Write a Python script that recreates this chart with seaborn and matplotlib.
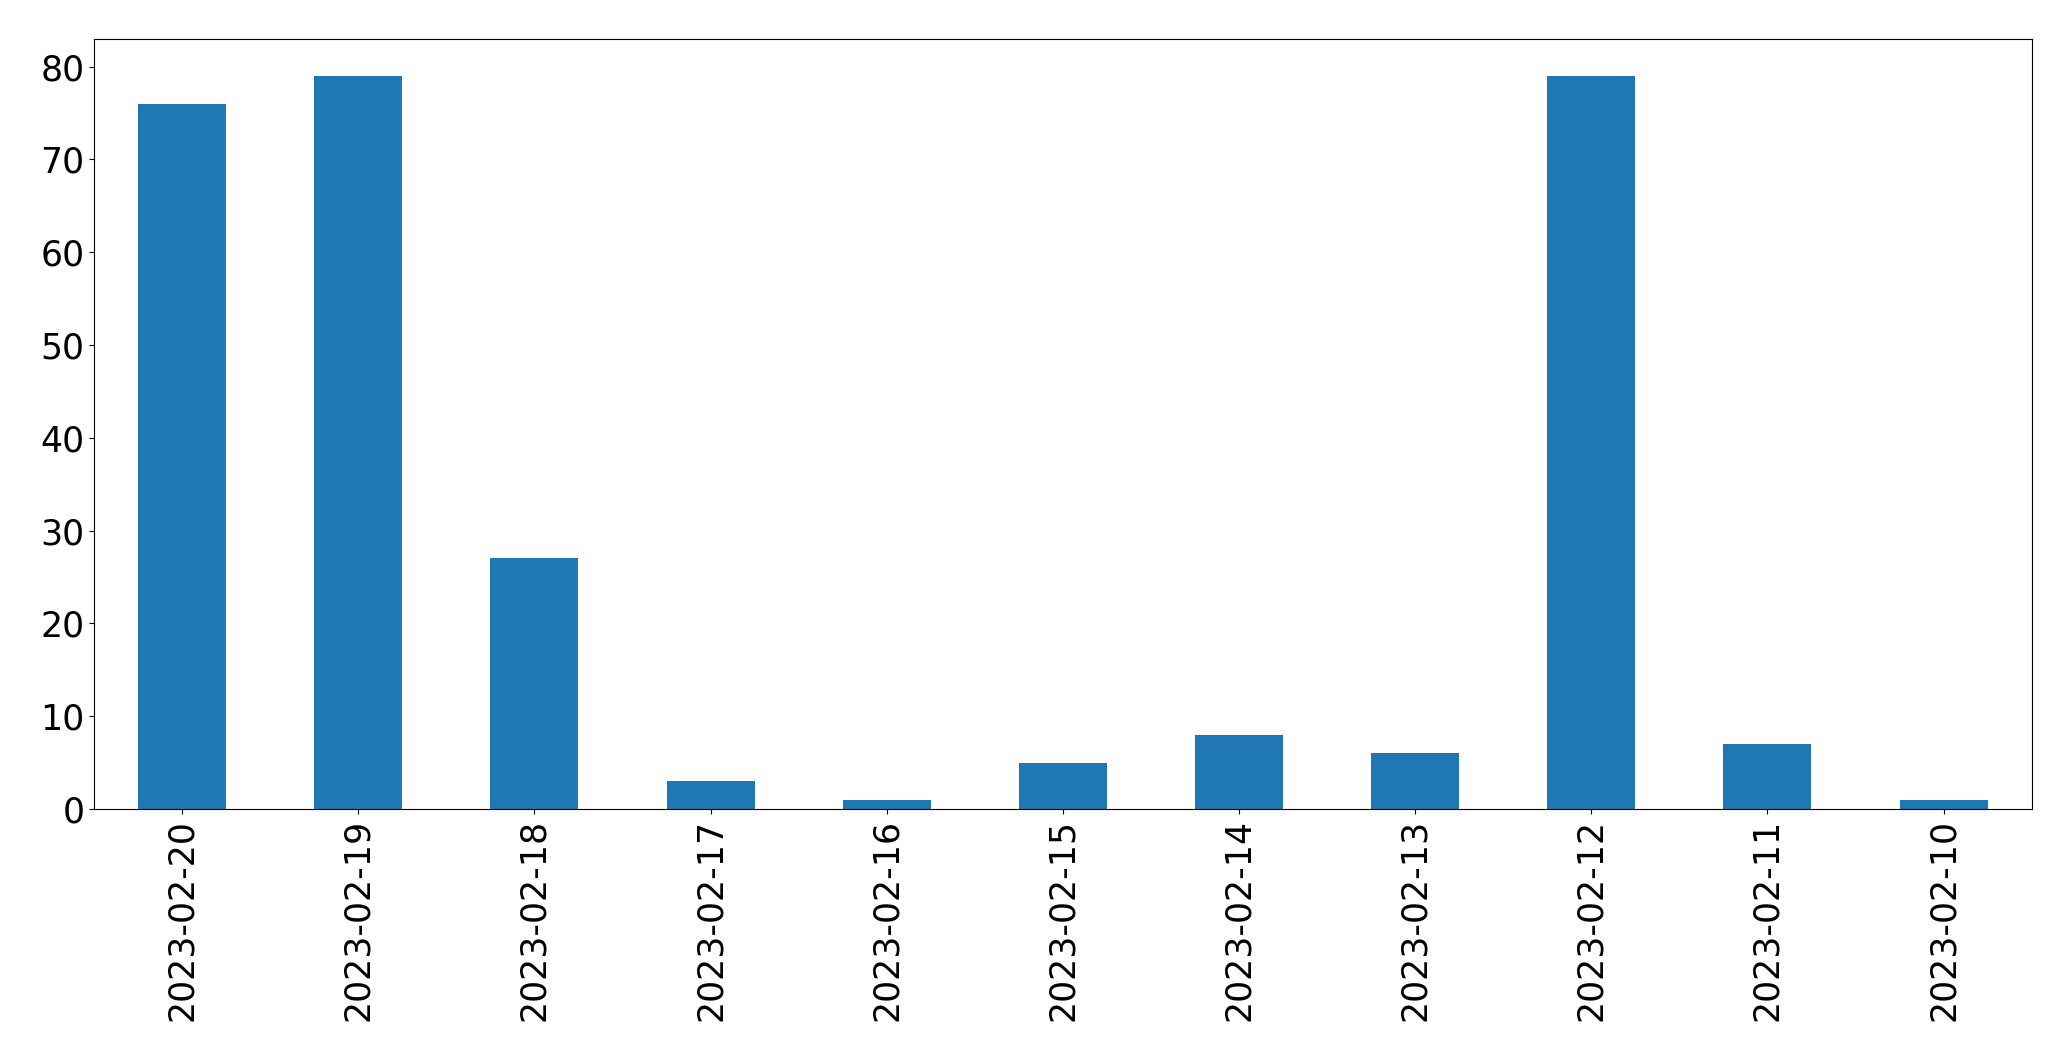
import numpy as np
import pandas as pd
import matplotlib
matplotlib.use("Agg")
import matplotlib.pyplot as plt
import seaborn as sns

dates = ["2023-02-20", "2023-02-19", "2023-02-18", "2023-02-17", "2023-02-16",
         "2023-02-15", "2023-02-14", "2023-02-13", "2023-02-12", "2023-02-11",
         "2023-02-10"]
counts = [76, 79, 27, 3, 1, 5, 8, 6, 79, 7, 1]

df = pd.DataFrame({"date": dates, "count": counts})

fig = plt.figure(figsize=(20.71, 10.61), dpi=100)
ax = fig.add_subplot(111)
sns.barplot(data=df, x="date", y="count", color="#1f77b4", saturation=1,
            width=0.5, ax=ax)
ax.set_xlabel("")
ax.set_ylabel("")
ax.tick_params(axis="both", labelsize=25)
ax.tick_params(axis="x", labelrotation=90)
fig.subplots_adjust(left=0.0454, right=0.981, top=0.963, bottom=0.2375)
fig.savefig("out.png", dpi=100)
